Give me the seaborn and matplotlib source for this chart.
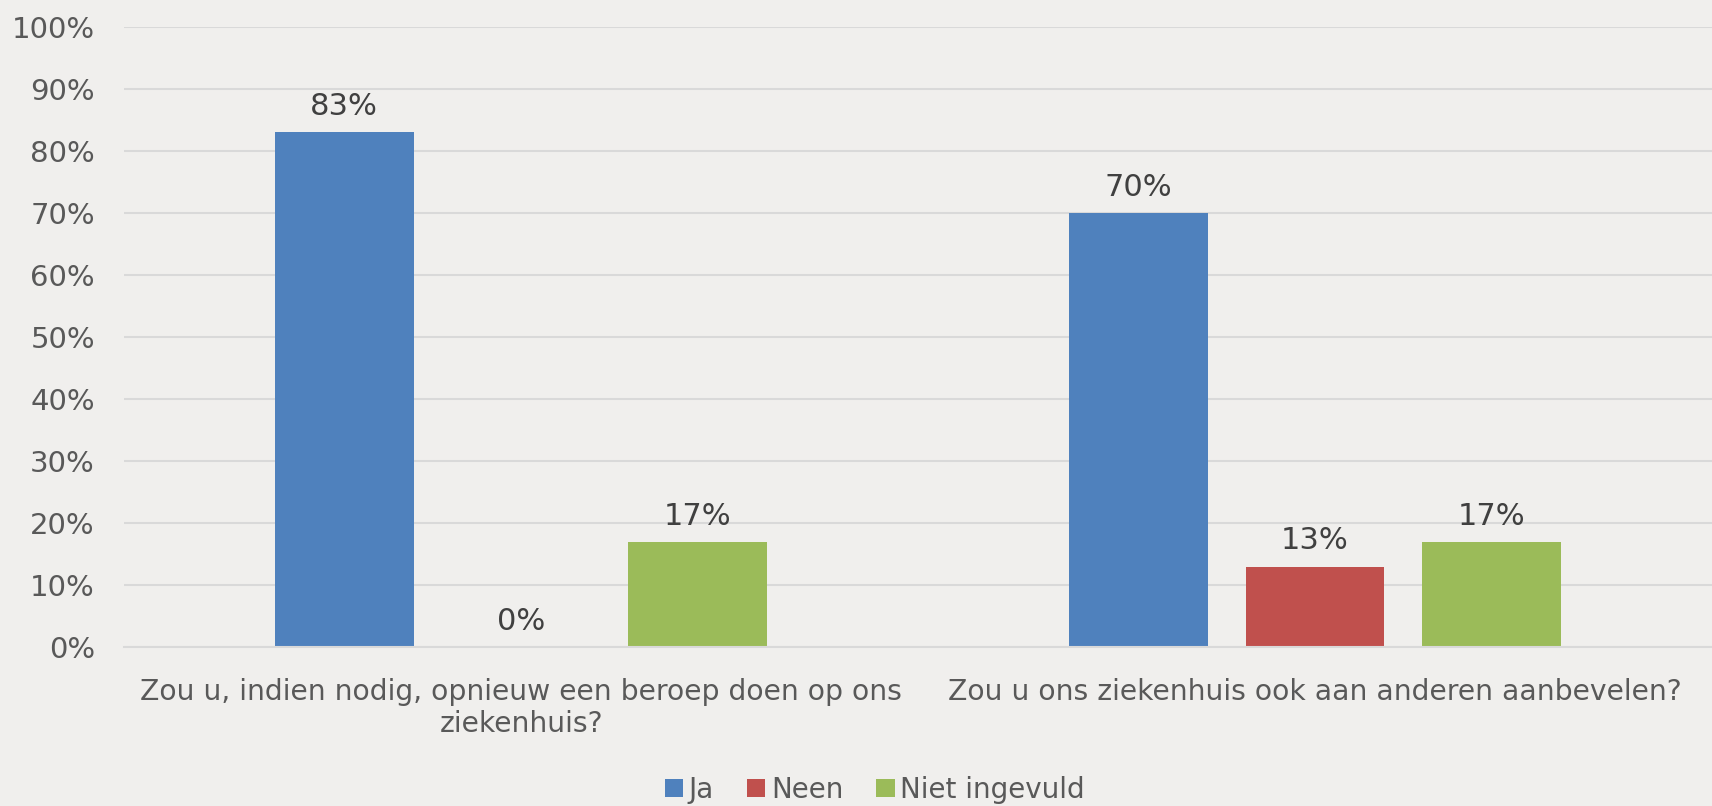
import pandas as pd
import seaborn as sns
import matplotlib.pyplot as plt
from matplotlib.ticker import PercentFormatter

vragen = ['Zou u, indien nodig, opnieuw een beroep doen op ons\nziekenhuis?',
          'Zou u ons ziekenhuis ook aan anderen aanbevelen?']
antwoorden = ['Ja', 'Neen', 'Niet ingevuld']
ja = [83, 70]
neen = [0, 13]
niet_ingevuld = [17, 17]
kleuren = ['#4F81BD', '#C0504D', '#9BBB59']

rows = []
for i, v in enumerate(vragen):
    for a, waarden in zip(antwoorden, [ja, neen, niet_ingevuld]):
        rows.append({'vraag': v, 'antwoord': a, 'pct': waarden[i]})
df = pd.DataFrame(rows)

bg = '#F0EFED'
sns.set_style('white')
plt.rcParams['font.family'] = ['DejaVu Sans']
plt.rcParams['text.color'] = '#595959'

fig = plt.figure(figsize=(17.12, 8.06), dpi=100, facecolor=bg)
ax = fig.add_axes([0.0725, 0.197, 0.9275, 0.7695])
ax.set_facecolor(bg)

sns.barplot(data=df, x='vraag', y='pct', hue='antwoord', palette=kleuren,
            width=0.668, gap=0.215, saturation=1, linewidth=0, ax=ax, legend=True)

ax.set_ylim(0, 100)
ax.set_xlim(-0.5, 1.5)
ax.set_yticks(range(0, 101, 10))
ax.yaxis.set_major_formatter(PercentFormatter(decimals=0))
ax.grid(axis='y', color='#D9D9D9', linewidth=1.5)
ax.set_axisbelow(True)
for s in ['left', 'right', 'top']:
    ax.spines[s].set_visible(False)
ax.spines['bottom'].set_color('#D9D9D9')
ax.spines['bottom'].set_linewidth(1.5)
ax.tick_params(axis='y', length=0, pad=21, labelsize=21, labelcolor='#595959')
ax.tick_params(axis='x', length=0, pad=22, labelsize=20.3, labelcolor='#595959')
ax.set_xlabel('')
ax.set_ylabel('')

for c in ax.containers:
    ax.bar_label(c, fmt='%d%%', padding=8, fontsize=22, color='#404040')

handles, labels = ax.get_legend_handles_labels()
ax.get_legend().remove()
fig.legend(handles, labels, loc='center', bbox_to_anchor=(0.511, 0.02), ncol=3,
           frameon=False, fontsize=20, handlelength=0.65, handleheight=0.65,
           handletextpad=0.2, columnspacing=1.2, labelcolor='#595959')

fig.savefig('out.png', dpi=100, facecolor=bg)
